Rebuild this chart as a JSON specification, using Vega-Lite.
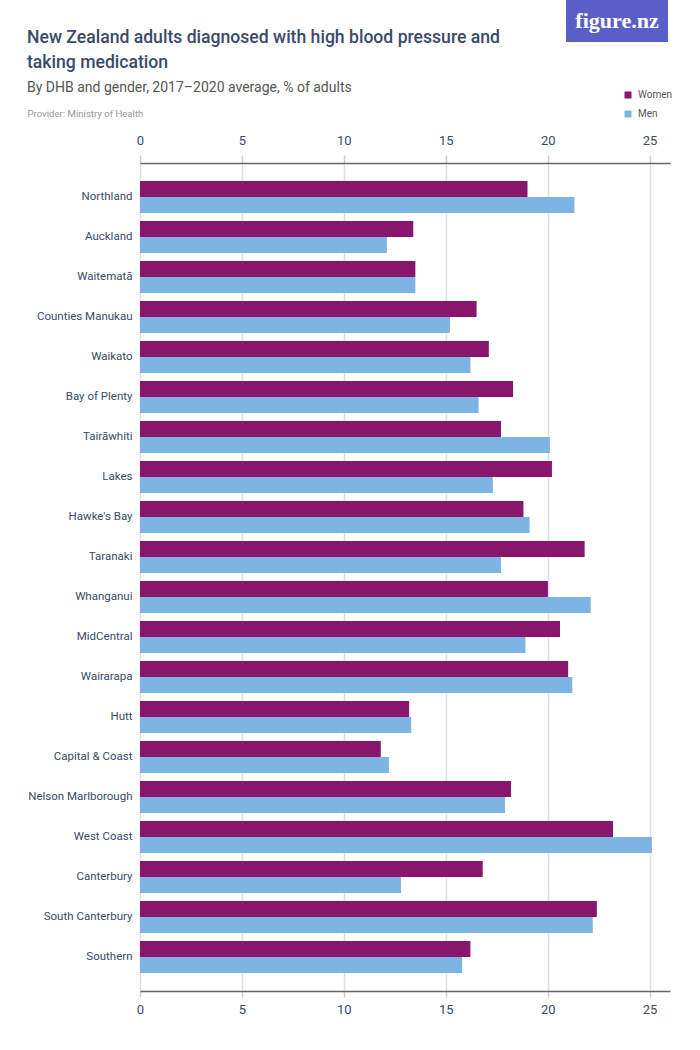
{
  "$schema": "https://vega.github.io/schema/vega-lite/v6.json",
  "padding": {"left": 27, "top": 0, "right": 0, "bottom": 0},
  "background": "white",
  "config": {
    "view": {"stroke": null},
    "font": "Roboto, sans-serif"
  },
  "spacing": -13,
  "resolve": {"scale": {"color": "independent"}, "legend": {"color": "independent"}},
  "vconcat": [
    {
      "spacing": 0,
      "hconcat": [
        {
          "width": 426,
          "height": 42,
          "data": {"values": [{}]},
          "mark": {"type": "text"},
          "encoding": {"text": {"value": ""}}
        },
        {
          "width": 102,
          "height": 42,
          "view": {"fill": "#5a5fc8", "stroke": null},
          "data": {"values": [{}]},
          "mark": {
            "type": "text",
            "font": "Liberation Serif, DejaVu Serif, serif",
            "fontSize": 22,
            "fontWeight": "bold",
            "color": "white",
            "align": "center",
            "baseline": "middle"
          },
          "encoding": {"text": {"value": "figure.nz"}}
        }
      ]
    },
    {
      "width": 530,
      "height": 828,
      "title": {
        "text": ["New Zealand adults diagnosed with high blood pressure and", "taking medication"],
        "subtitle": "By DHB and gender, 2017–2020 average, % of adults",
        "anchor": "start",
        "frame": "bounds",
        "font": "Roboto",
        "fontSize": 17.6,
        "fontWeight": 500,
        "color": "#3a4a68",
        "lineHeight": 25,
        "subtitleFont": "Roboto",
        "subtitleFontSize": 14,
        "subtitleColor": "#555555",
        "subtitlePadding": 9,
        "offset": -5
      },
      "data": {
        "values": [
          {"dhb": "Northland", "gender": "Women", "value": 19.0},
          {"dhb": "Northland", "gender": "Men", "value": 21.3},
          {"dhb": "Auckland", "gender": "Women", "value": 13.4},
          {"dhb": "Auckland", "gender": "Men", "value": 12.1},
          {"dhb": "Waitematā", "gender": "Women", "value": 13.5},
          {"dhb": "Waitematā", "gender": "Men", "value": 13.5},
          {"dhb": "Counties Manukau", "gender": "Women", "value": 16.5},
          {"dhb": "Counties Manukau", "gender": "Men", "value": 15.2},
          {"dhb": "Waikato", "gender": "Women", "value": 17.1},
          {"dhb": "Waikato", "gender": "Men", "value": 16.2},
          {"dhb": "Bay of Plenty", "gender": "Women", "value": 18.3},
          {"dhb": "Bay of Plenty", "gender": "Men", "value": 16.6},
          {"dhb": "Tairāwhiti", "gender": "Women", "value": 17.7},
          {"dhb": "Tairāwhiti", "gender": "Men", "value": 20.1},
          {"dhb": "Lakes", "gender": "Women", "value": 20.2},
          {"dhb": "Lakes", "gender": "Men", "value": 17.3},
          {"dhb": "Hawke's Bay", "gender": "Women", "value": 18.8},
          {"dhb": "Hawke's Bay", "gender": "Men", "value": 19.1},
          {"dhb": "Taranaki", "gender": "Women", "value": 21.8},
          {"dhb": "Taranaki", "gender": "Men", "value": 17.7},
          {"dhb": "Whanganui", "gender": "Women", "value": 20.0},
          {"dhb": "Whanganui", "gender": "Men", "value": 22.1},
          {"dhb": "MidCentral", "gender": "Women", "value": 20.6},
          {"dhb": "MidCentral", "gender": "Men", "value": 18.9},
          {"dhb": "Wairarapa", "gender": "Women", "value": 21.0},
          {"dhb": "Wairarapa", "gender": "Men", "value": 21.2},
          {"dhb": "Hutt", "gender": "Women", "value": 13.2},
          {"dhb": "Hutt", "gender": "Men", "value": 13.3},
          {"dhb": "Capital & Coast", "gender": "Women", "value": 11.8},
          {"dhb": "Capital & Coast", "gender": "Men", "value": 12.2},
          {"dhb": "Nelson Marlborough", "gender": "Women", "value": 18.2},
          {"dhb": "Nelson Marlborough", "gender": "Men", "value": 17.9},
          {"dhb": "West Coast", "gender": "Women", "value": 23.2},
          {"dhb": "West Coast", "gender": "Men", "value": 25.1},
          {"dhb": "Canterbury", "gender": "Women", "value": 16.8},
          {"dhb": "Canterbury", "gender": "Men", "value": 12.8},
          {"dhb": "South Canterbury", "gender": "Women", "value": 22.4},
          {"dhb": "South Canterbury", "gender": "Men", "value": 22.2},
          {"dhb": "Southern", "gender": "Women", "value": 16.2},
          {"dhb": "Southern", "gender": "Men", "value": 15.8}
        ]
      },
      "encoding": {
        "y": {
          "field": "dhb",
          "type": "nominal",
          "sort": ["Northland", "Auckland", "Waitematā", "Counties Manukau", "Waikato", "Bay of Plenty", "Tairāwhiti", "Lakes", "Hawke's Bay", "Taranaki", "Whanganui", "MidCentral", "Wairarapa", "Hutt", "Capital & Coast", "Nelson Marlborough", "West Coast", "Canterbury", "South Canterbury", "Southern"],
          "scale": {"paddingInner": 0.2, "paddingOuter": 0.45},
          "axis": {
            "title": null,
            "domain": false,
            "ticks": false,
            "labelPadding": 8,
            "labelFont": "Roboto",
            "labelFontSize": 11.5,
            "labelColor": "#3a4a68"
          }
        },
        "yOffset": {"field": "gender", "type": "nominal", "sort": ["Women", "Men"]},
        "color": {
          "field": "gender",
          "type": "nominal",
          "sort": ["Women", "Men"],
          "scale": {"domain": ["Women", "Men"], "range": ["#88166c", "#7eb4e3"]},
          "legend": {
            "title": null,
            "orient": "none",
            "legendX": 483,
            "legendY": -73,
            "padding": 0,
            "symbolType": "square",
            "symbolSize": 49,
            "symbolStrokeWidth": 0,
            "labelFont": "Roboto",
            "labelFontSize": 10,
            "labelColor": "#555555",
            "labelOffset": 5,
            "rowPadding": 9
          }
        }
      },
      "layer": [
        {
          "mark": "bar",
          "encoding": {
            "x": {
              "field": "value",
              "type": "quantitative",
              "scale": {"domain": [0, 26], "nice": false},
              "axis": {
                "orient": "bottom",
                "values": [0, 5, 10, 15, 20, 25],
                "title": null,
                "grid": true,
                "gridColor": "#e0e0e0",
                "gridWidth": 1.5,
                "domainColor": "#666666",
                "domainWidth": 1.5,
                "tickColor": "#cccccc",
                "tickWidth": 1.5,
                "tickSize": 6,
                "labelPadding": 6,
                "labelFlush": false,
                "labelFont": "Roboto",
                "labelFontSize": 13,
                "labelColor": "#3a4a68"
              }
            }
          }
        },
        {
          "mark": "bar",
          "encoding": {
            "x": {
              "field": "value",
              "type": "quantitative",
              "scale": {"domain": [0, 26], "nice": false},
              "axis": {
                "orient": "top",
                "values": [0, 5, 10, 15, 20, 25],
                "grid": false,
                "domainColor": "#666666",
                "domainWidth": 1.5,
                "tickColor": "#cccccc",
                "tickWidth": 1.5,
                "tickSize": 8,
                "labelPadding": 8,
                "labelFlush": false,
                "labelFont": "Roboto",
                "labelFontSize": 13,
                "labelColor": "#3a4a68",
                "title": "Provider: Ministry of Health",
                "titleX": -113,
                "titleY": -50,
                "titleAlign": "left",
                "titleBaseline": "middle",
                "titleAngle": 0,
                "titleFont": "Roboto",
                "titleFontSize": 9.6,
                "titleFontWeight": "normal",
                "titleColor": "#999999"
              }
            }
          }
        }
      ],
      "resolve": {"axis": {"x": "independent"}}
    }
  ]
}
